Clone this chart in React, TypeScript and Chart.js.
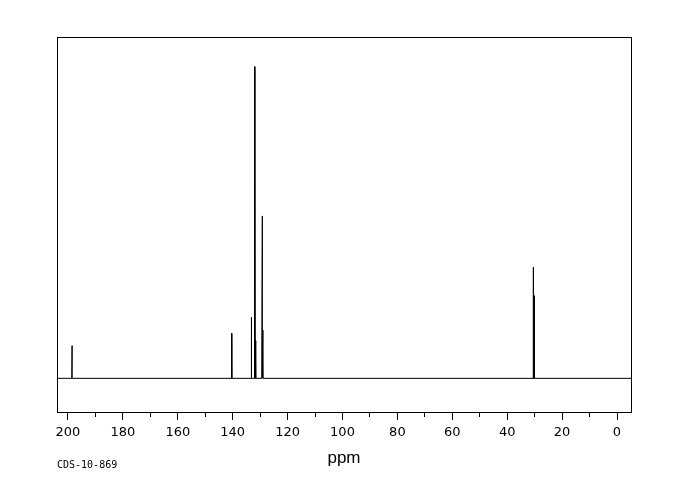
import React, { useEffect, useRef } from "react";
import { Chart, registerables } from "chart.js";

Chart.register(...registerables);

// Peak positions (ppm) and relative heights
const peakPpm = [198.5, 140.3, 133.1, 131.9, 131.6, 129.3, 129.0, 30.4, 30.0];
const peakHeight = [10.5, 14.4, 19.6, 100, 12.1, 52.1, 15.5, 35.7, 26.5];

const majorTicks = [0, 20, 40, 60, 80, 100, 120, 140, 160, 180, 200];
const minorTicks = [0, 10, 20, 30, 40, 50, 60, 70, 80, 90, 100, 110, 120, 130, 140, 150, 160, 170, 180, 190, 200];

const xRange = [-5.1, 204];
const yRange = [-10.8, 109.5];

const axisLabel = "ppm";
const sampleId = "CDS-10-869";

const halfWidth = 0.12;

function buildSpectrum() {
  const order = peakPpm.map((_, i) => i).sort((a, b) => peakPpm[a] - peakPpm[b]);
  const pts: { x: number; y: number }[] = [{ x: xRange[0], y: 0 }];
  for (const i of order) {
    pts.push({ x: peakPpm[i] - halfWidth, y: 0 });
    pts.push({ x: peakPpm[i], y: peakHeight[i] });
    pts.push({ x: peakPpm[i] + halfWidth, y: 0 });
  }
  pts.push({ x: xRange[1], y: 0 });
  return pts;
}

const framePlugin = {
  id: "frame",
  afterDraw(chart: any) {
    const { ctx, chartArea } = chart;
    ctx.save();
    ctx.strokeStyle = "#000";
    ctx.lineWidth = 1;
    const l = Math.round(chartArea.left) + 0.5;
    const t = Math.round(chartArea.top) + 0.5;
    const r = Math.round(chartArea.right) + 0.5;
    const b = Math.round(chartArea.bottom) + 0.5;
    ctx.strokeRect(l, t, r - l, b - t);
    ctx.fillStyle = "#000";
    ctx.font = "10px 'DejaVu Sans Mono'";
    ctx.textAlign = "left";
    ctx.textBaseline = "middle";
    ctx.fillText(sampleId, chartArea.left, 465);
    ctx.restore();
  },
};

export default function App() {
  const ref = useRef<HTMLCanvasElement | null>(null);
  useEffect(() => {
    document.body.style.margin = "0";
    const c = ref.current;
    if (!c) return;
    const chart = new Chart(c, {
      type: "line",
      data: {
        datasets: [
          {
            data: buildSpectrum(),
            borderColor: "#000",
            borderWidth: 1,
            pointRadius: 0,
            tension: 0,
            fill: false,
            xAxisID: "x",
            yAxisID: "y",
          },
        ],
      },
      options: {
        animation: false,
        responsive: false,
        devicePixelRatio: 1,
        parsing: false as any,
        layout: { padding: { left: 57, right: 49, top: 37, bottom: 0 } },
        plugins: { legend: { display: false }, tooltip: { enabled: false } },
        scales: {
          xm: {
            type: "linear",
            position: "bottom",
            weight: 0,
            min: xRange[0],
            max: xRange[1],
            reverse: true,
            afterBuildTicks: (s: any) => {
              s.ticks = minorTicks.map((v) => ({ value: v }));
            },
            afterFit: (s: any) => {
              s.height = 0;
            },
            grid: { drawOnChartArea: false, drawTicks: true, tickLength: 5, color: "#000", tickColor: "#000" },
            border: { display: false },
            ticks: { display: false },
          },
          x: {
            type: "linear",
            position: "bottom",
            weight: 1,
            min: xRange[0],
            max: xRange[1],
            reverse: true,
            afterBuildTicks: (s: any) => {
              s.ticks = majorTicks.map((v) => ({ value: v }));
            },
            afterFit: (s: any) => {
              s.height = 88;
            },
            grid: { drawOnChartArea: false, drawTicks: true, tickLength: 8, color: "#000", tickColor: "#000" },
            border: { display: true, color: "#000" },
            ticks: {
              color: "#000",
              padding: 5,
              maxRotation: 0,
              autoSkip: false,
              font: { family: "'DejaVu Sans'", size: 13 },
              callback: (v: any) => String(v),
            },
            title: {
              display: true,
              text: axisLabel,
              color: "#000",
              font: { family: "'Liberation Sans'", size: 17 },
              padding: { top: 0, bottom: 31 },
            },
          },
          y: {
            type: "linear",
            display: false,
            min: yRange[0],
            max: yRange[1],
          },
        },
      },
      plugins: [framePlugin],
    });
    return () => chart.destroy();
  }, []);
  return (
    <div style={{ position: "fixed", left: 0, top: 0, width: 680, height: 500, background: "#fff" }}>
      <canvas ref={ref} width={680} height={500} />
    </div>
  );
}
